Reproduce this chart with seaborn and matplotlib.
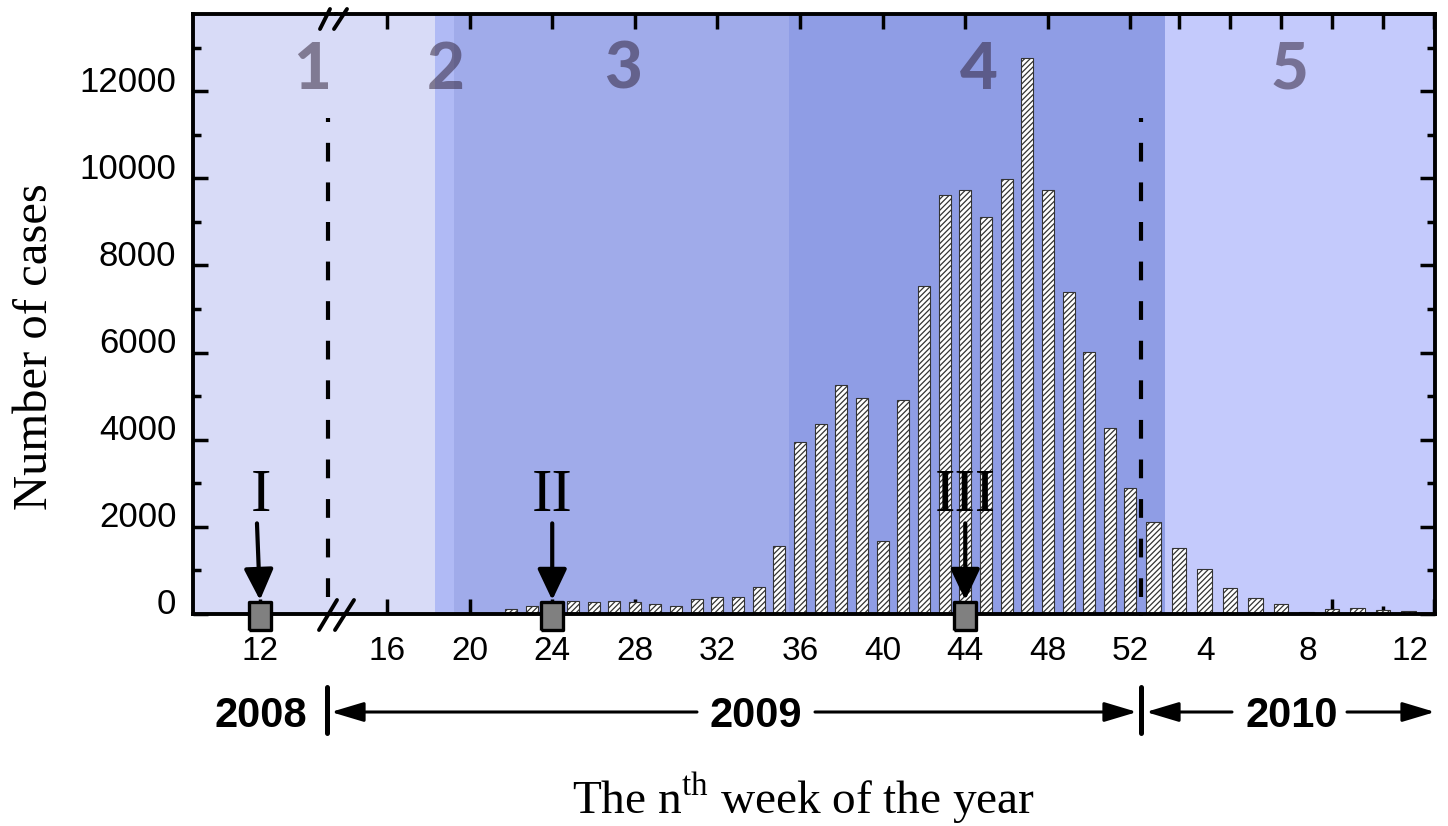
import matplotlib
matplotlib.use("Agg")
import matplotlib.pyplot as plt
import matplotlib.transforms as mtransforms
from matplotlib.lines import Line2D
from matplotlib.ticker import MultipleLocator
import seaborn as sns

# weekly number of cases
weeks_2009 = list(range(21, 53))
cases_2009 = [30, 110, 180, 250, 300, 275, 290, 275, 220, 185,
              335, 400, 390, 610, 1570,
              3950, 4350, 5250, 4950, 1670, 4910, 7530, 9610, 9730, 9110,
              9990, 12750, 9730, 7400, 6020, 4280, 2900]
weeks_2010 = list(range(1, 12))
cases_2010 = [2100, 1505, 1025, 590, 375, 220, 40, 110, 135, 90, 75]

# sampling points (label, segment, week)
samples = [("I", "2008", 12), ("II", "2009", 24), ("III", "2009", 44)]

# shaded stages
stage_edges_2009 = [13.53, 18.32, 19.24, 35.47, 52.51]
stage_colors_2009 = ["#d8dbf7", "#b0baf5", "#a0abea", "#8f9de5"]
stage_edges_2010 = [0.51, 1.45, 12.04]
stage_colors_2010 = ["#8f9de5", "#c4cafc"]
stage_labels = [("1", "2008", 14.48), ("2", "2009", 18.86), ("3", "2009", 27.43),
                ("4", "2009", 44.66), ("5", "2010", 6.35)]

xticks_2008 = [12]
xticks_2009 = list(range(16, 53, 4))
xticks_2010 = [4, 8, 12]
yticks = list(range(0, 12001, 2000))

sns.set_theme(style="ticks")
plt.rcParams["font.family"] = ["Liberation Sans", "DejaVu Sans"]
plt.rcParams["mathtext.fontset"] = "custom"
plt.rcParams["mathtext.rm"] = "Liberation Serif"
plt.rcParams["hatch.linewidth"] = 0.9
plt.rcParams["hatch.color"] = "#333333"
for k in ["text.color", "axes.labelcolor", "xtick.color", "ytick.color"]:
    plt.rcParams[k] = "black"

W, H = 1448, 826
fig = plt.figure(figsize=(W / 100, H / 100), dpi=100)


def box(x0, x1, y0=14, y1=614):
    return [x0 / W, 1 - y1 / H, (x1 - x0) / W, (y1 - y0) / H]


ax08 = fig.add_axes(box(193, 336))
ax09 = fig.add_axes(box(336, 1141), sharey=ax08)
ax10 = fig.add_axes(box(1141, 1435), sharey=ax08)
axes = {"2008": ax08, "2009": ax09, "2010": ax10}

# background stages
ax08.axvspan(8.73, 15.66, color=stage_colors_2009[0], lw=0, zorder=0)
for i, c in enumerate(stage_colors_2009):
    ax09.axvspan(stage_edges_2009[i], stage_edges_2009[i + 1], color=c, lw=0, zorder=0)
for i, c in enumerate(stage_colors_2010):
    ax10.axvspan(stage_edges_2010[i], stage_edges_2010[i + 1], color=c, lw=0, zorder=0)

# bars
bar_kw = dict(native_scale=True, width=0.58, color="white", saturation=1,
              edgecolor="#333333", linewidth=0.8, hatch="//////",
              errorbar=None, zorder=2)
sns.barplot(x=weeks_2009, y=cases_2009, ax=ax09, **bar_kw)
sns.barplot(x=weeks_2010, y=cases_2010, ax=ax10, **bar_kw)

ax08.set_xlim(8.73, 15.66)
ax09.set_xlim(stage_edges_2009[0], stage_edges_2009[-1])
ax10.set_xlim(stage_edges_2010[0], stage_edges_2010[-1])
ax08.set_ylim(0, 13770)

for ax in axes.values():
    ax.set_facecolor("none")
    ax.set_xlabel("")
    ax.set_ylabel("")
    for s in ax.spines.values():
        s.set_linewidth(2.8)
        s.set_color("black")
        s.set_zorder(4)
    ax.tick_params(which="major", direction="in", length=11, width=2.5,
                   color="black", labelsize=24, pad=16)
    ax.tick_params(which="minor", direction="in", length=5.5, width=2.5, color="black")

ax08.spines["right"].set_visible(False)
ax09.spines["left"].set_visible(False)
ax09.spines["right"].set_visible(False)
ax10.spines["left"].set_visible(False)

# y axis
ax08.set_yticks(yticks, [str(v) for v in yticks])
ax08.yaxis.set_minor_locator(MultipleLocator(1000))
ax08.tick_params(axis="y", which="both", left=True, right=False, labelleft=True)
ax08.tick_params(axis="y", labelsize=25, pad=12)
ax09.tick_params(axis="y", which="both", left=False, right=False, labelleft=False)
ax10.tick_params(axis="y", which="both", left=False, right=True, labelleft=False)

# x axes
ax08.set_xticks(xticks_2008, [str(v) for v in xticks_2008])
ax08.tick_params(axis="x", which="both", top=False, bottom=True)
ax09.set_xticks(xticks_2009, [str(v) for v in xticks_2009])
ax09.tick_params(axis="x", which="both", top=True, bottom=True)
ax10.set_xticks(xticks_2010, [str(v) for v in xticks_2010])
ax10.set_xticks([2, 6, 10], minor=True)
ax10.tick_params(axis="x", which="both", top=False, bottom=True)
top10 = ax10.secondary_xaxis("top")
top10.set_xticks(list(range(2, 13, 2)))
top10.tick_params(direction="in", length=11, width=2.5, color="black", labeltop=False)
top10.spines["top"].set_linewidth(2.8)

# label offsets as in the original layout
for lab in ax08.get_yticklabels():
    lab.set_transform(lab.get_transform() +
                      mtransforms.ScaledTranslation(0, 0.125, fig.dpi_scale_trans))
for lab in ax10.get_xticklabels():
    lab.set_transform(lab.get_transform() +
                      mtransforms.ScaledTranslation(-0.24, 0, fig.dpi_scale_trans))

# stage boundaries (dashed)
dash = (0, (4.5, 5))
ax08.plot([15.27, 15.27], [390, 11380], ls=dash, lw=3, color="black", zorder=3)
ax10.plot([stage_edges_2010[0]] * 2, [390, 11380], ls=dash, lw=3, color="black",
          zorder=3, clip_on=False)

# stage numbers
for txt, seg, x in stage_labels:
    axes[seg].text(x, 12060, txt, ha="center", va="baseline", fontsize=47,
                   family="Lato", fontweight="black", color="#2a1a30", alpha=0.5,
                   zorder=3)

# sampling markers with arrows
rect = [(-0.39, -0.5), (0.39, -0.5), (0.39, 0.5), (-0.39, 0.5), (-0.39, -0.5)]
arrow_kw = dict(arrowstyle="-|>,head_length=0.95,head_width=0.45", lw=3,
                color="black", shrinkA=0, shrinkB=10, mutation_scale=20)
for lab, seg, wk in samples:
    ax = axes[seg]
    ax.plot([wk], [-40], marker=rect, markersize=20, color="#808080",
            markeredgecolor="black", markeredgewidth=2.4, clip_on=False, zorder=6)
    x0 = wk - 0.17 if lab == "I" else wk
    ax.annotate("", xy=(wk, 0), xytext=(x0, 2080), arrowprops=arrow_kw, zorder=6)
    ax.text(wk, 2360, lab, ha="center", va="baseline", fontsize=44,
            family="Liberation Serif", color="black", zorder=6)

# axis break marks
for (x0, y0, x1, y1) in [(319, 630, 337, 600), (335, 630, 354, 600),
                         (320, 29, 330, 9), (334, 29, 347, 9)]:
    fig.add_artist(Line2D([x0 / W, x1 / W], [1 - y0 / H, 1 - y1 / H],
                          transform=fig.transFigure, color="black", lw=2.8))

# year row
for (x, yr) in [(261, "2008"), (756, "2009"), (1292, "2010")]:
    fig.text(x / W, 1 - 727 / H, yr, ha="center", va="baseline", fontsize=30,
             fontweight="bold")
for x in [327, 1141]:
    fig.add_artist(Line2D([x / W, x / W], [1 - 687 / H, 1 - 733 / H],
                          transform=fig.transFigure, color="black", lw=3.6))
year_arrow = dict(arrowstyle="-|>,head_length=1.0,head_width=0.3", lw=2.2,
                  color="black", shrinkA=0, shrinkB=0, mutation_scale=20)
for (xs, xe) in [(697, 331), (815, 1137), (1232, 1146), (1347, 1435)]:
    ax08.annotate("", xy=(xe, H - 712), xytext=(xs, H - 712),
                  xycoords="figure pixels", textcoords="figure pixels",
                  arrowprops=year_arrow, annotation_clip=False)

# axis titles
fig.text(35 / W, 1 - 347 / H, "Number of cases", rotation=90, ha="center",
         va="center", fontsize=35, family="Liberation Serif")
fig.text(804 / W, 1 - 814 / H, r"The n$^{\mathrm{th}}$ week of the year",
         ha="center", va="baseline", fontsize=34, family="Liberation Serif")

fig.savefig("out.png", dpi=100)
